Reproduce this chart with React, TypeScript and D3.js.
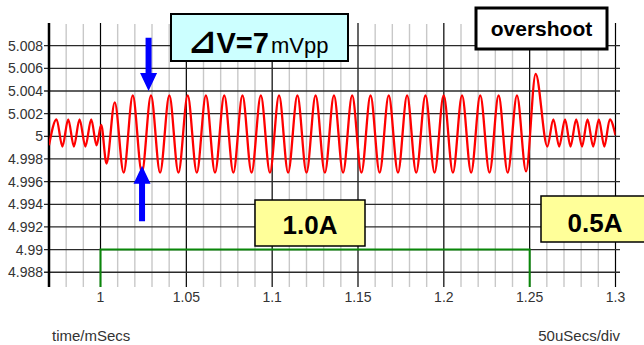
import * as d3 from 'd3';

const waveTime = [
  0.9700, 0.9744, 0.9778, 0.9812, 0.9845, 0.9878, 0.9912, 0.9946, 0.9977, 1.0004,
  1.0035, 1.0083, 1.0135,
  1.0188, 1.0241, 1.0294, 1.0347, 1.0401, 1.0454, 1.0508, 1.0561, 1.0614, 1.0667,
  1.0721, 1.0774, 1.0827, 1.0880, 1.0934, 1.0987, 1.1040, 1.1093, 1.1147, 1.1200,
  1.1253, 1.1307, 1.1360, 1.1413, 1.1466, 1.1520, 1.1573, 1.1626, 1.1679, 1.1733,
  1.1786, 1.1839, 1.1893, 1.1946, 1.1999, 1.2053, 1.2106, 1.2159, 1.2212, 1.2266,
  1.2319, 1.2372, 1.2426, 1.2479,
  1.2535, 1.2603, 1.2638, 1.2672, 1.2706, 1.2738, 1.2771, 1.2805, 1.2837, 1.2870,
  1.2903, 1.2935, 1.2967, 1.3000,
];
const waveVolt = [
  4.9992, 5.0015, 4.9991, 5.0015, 4.9991, 5.0015, 4.9991, 5.0015, 4.9992, 5.0010,
  4.9976, 5.0030, 4.9968,
  5.0036, 4.9968, 5.0036, 4.9968, 5.0036, 4.9968, 5.0036, 4.9968, 5.0036, 4.9968,
  5.0036, 4.9968, 5.0036, 4.9968, 5.0036, 4.9968, 5.0036, 4.9968, 5.0036, 4.9968,
  5.0036, 4.9968, 5.0036, 4.9968, 5.0036, 4.9968, 5.0036, 4.9968, 5.0036, 4.9968,
  5.0036, 4.9968, 5.0036, 4.9968, 5.0036, 4.9968, 5.0036, 4.9968, 5.0036, 4.9968,
  5.0036, 4.9968, 5.0036, 4.9969,
  5.0055, 4.9991, 5.0015, 4.9991, 5.0015, 4.9991, 5.0015, 4.9991, 5.0015, 4.9991,
  5.0015, 4.9991, 5.0015, 5.0001,
];

// load current step (A)
const loadTime = [0.97, 1.0, 1.0, 1.25, 1.25, 1.3];
const loadAmps = [0.5, 0.5, 1.0, 1.0, 0.5, 0.5];

const yTicks = [4.988, 4.99, 4.992, 4.994, 4.996, 4.998, 5, 5.002, 5.004, 5.006, 5.008];
const yTickLabels = ['4.988', '4.99', '4.992', '4.994', '4.996', '4.998', '5', '5.002', '5.004', '5.006', '5.008'];
const xTicks = [1, 1.05, 1.1, 1.15, 1.2, 1.25, 1.3];
const xTickLabels = ['1', '1.05', '1.1', '1.15', '1.2', '1.25', '1.3'];

const W = 644;
const H = 345;
const font = '"Liberation Sans", Arial, sans-serif';

const App = () => {
  const x = d3.scaleLinear().domain([0.97, 1.3]).range([49, 615.5]);
  const y = d3.scaleLinear().domain([4.9867, 5.01]).range([287, 23]);
  // current drawn on the same plot: 1.0A sits on the 4.99 line
  const yAmp = d3.scaleLinear().domain([0.5, 1.0]).range([y(4.98), y(4.99)]);

  const [x0, x1] = x.range();
  const [yb, yt] = y.range();

  const minor = d3.range(98, 130).map(i => i / 100).filter(v => !xTicks.some(t => Math.abs(t - v) < 1e-6));

  const wave = d3.line<number>()
    .x((_, i) => x(waveTime[i]))
    .y(d => y(d))
    .curve(d3.curveMonotoneX)(waveVolt);

  const load = d3.line<number>()
    .x((_, i) => x(loadTime[i]))
    .y(d => yAmp(d))(loadAmps);

  // arrows marking the peak to peak swing
  const arrows = [
    { t: 1.028, from: 5.0087, to: 5.004 },
    { t: 1.0242, from: 4.9925, to: 4.9974 },
  ];
  const arrowPath = (a: { t: number; from: number; to: number }) => {
    const cx = x(a.t);
    const y0 = y(a.from);
    const y1 = y(a.to);
    const dir = y1 > y0 ? 1 : -1;
    const hb = y1 - dir * 18;
    return `M${cx - 3},${y0} L${cx + 3},${y0} L${cx + 3},${hb} L${cx + 8.5},${hb} L${cx},${y1} L${cx - 8.5},${hb} L${cx - 3},${hb} Z`;
  };

  return (
    <svg width={W} height={H} style={{ position: 'absolute', left: 0, top: 0, background: '#fff' }}>
      <defs>
        <clipPath id="plot">
          <rect x={x0} y={yt} width={x1 - x0} height={yb - yt} />
        </clipPath>
      </defs>

      {minor.map(v => (
        <line key={'m' + v} x1={x(v)} x2={x(v)} y1={yt + 1} y2={yb} stroke="#c8c8c8" strokeWidth={1.4} />
      ))}
      {xTicks.map(v => (
        <line key={'M' + v} x1={x(v)} x2={x(v)} y1={yt} y2={yb} stroke="#000" strokeWidth={1.2} />
      ))}
      {yTicks.map(v => (
        <line key={'h' + v} x1={44} x2={620} y1={y(v)} y2={y(v)} stroke="#2a2a2a" strokeWidth={1.3} />
      ))}
      <line x1={x0} x2={x0} y1={yt} y2={yb} stroke="#000" strokeWidth={2.5} />

      {yTicks.map((v, i) => (
        <text key={'yl' + v} x={43} y={y(v) + 5} textAnchor="end" fontFamily={font} fontSize={14} fill="#333">
          {yTickLabels[i]}
        </text>
      ))}
      {xTicks.map((v, i) => (
        <text key={'xl' + v} x={x(v)} y={302} textAnchor="middle" fontFamily={font} fontSize={14} fill="#333">
          {xTickLabels[i]}
        </text>
      ))}

      <g clipPath="url(#plot)">
        <path d={load ?? ''} fill="none" stroke="#0a870a" strokeWidth={2} />
        <path d={wave ?? ''} fill="none" stroke="#ff0000" strokeWidth={2.3} />
      </g>

      {arrows.map((a, i) => (
        <path key={'a' + i} d={arrowPath(a)} fill="#0000ff" />
      ))}

      <rect x={171} y={14} width={177} height={47} fill="#ccffff" stroke="#000" strokeWidth={2} />
      <text x={188} y={53} fontFamily={font}>
        <tspan fontSize={34} fontWeight="bold" fontFamily='"DejaVu Sans", sans-serif'>⊿</tspan>
        <tspan fontSize={29} fontWeight="bold">V=7</tspan>
        <tspan fontSize={22} dx={2}>mVpp</tspan>
      </text>

      <rect x={476} y={8} width={131} height={41} fill="#fff" stroke="#000" strokeWidth={3} />
      <text x={541.5} y={36} textAnchor="middle" fontFamily={font} fontSize={21} fontWeight="bold">overshoot</text>

      <rect x={255} y={200} width={110} height={46} fill="#ffff99" stroke="#000" strokeWidth={1.5} />
      <text x={310} y={234} textAnchor="middle" fontFamily={font} fontSize={26} fontWeight="bold">1.0A</text>

      <rect x={541} y={196} width={110} height={46} fill="#ffff99" stroke="#000" strokeWidth={1.5} />
      <text x={595} y={232} textAnchor="middle" fontFamily={font} fontSize={26} fontWeight="bold">0.5A</text>

      <text x={52} y={341} fontFamily={font} fontSize={15} fill="#333">time/mSecs</text>
      <text x={620} y={341} textAnchor="end" fontFamily={font} fontSize={15} fill="#333">50uSecs/div</text>
    </svg>
  );
};

export default App;
